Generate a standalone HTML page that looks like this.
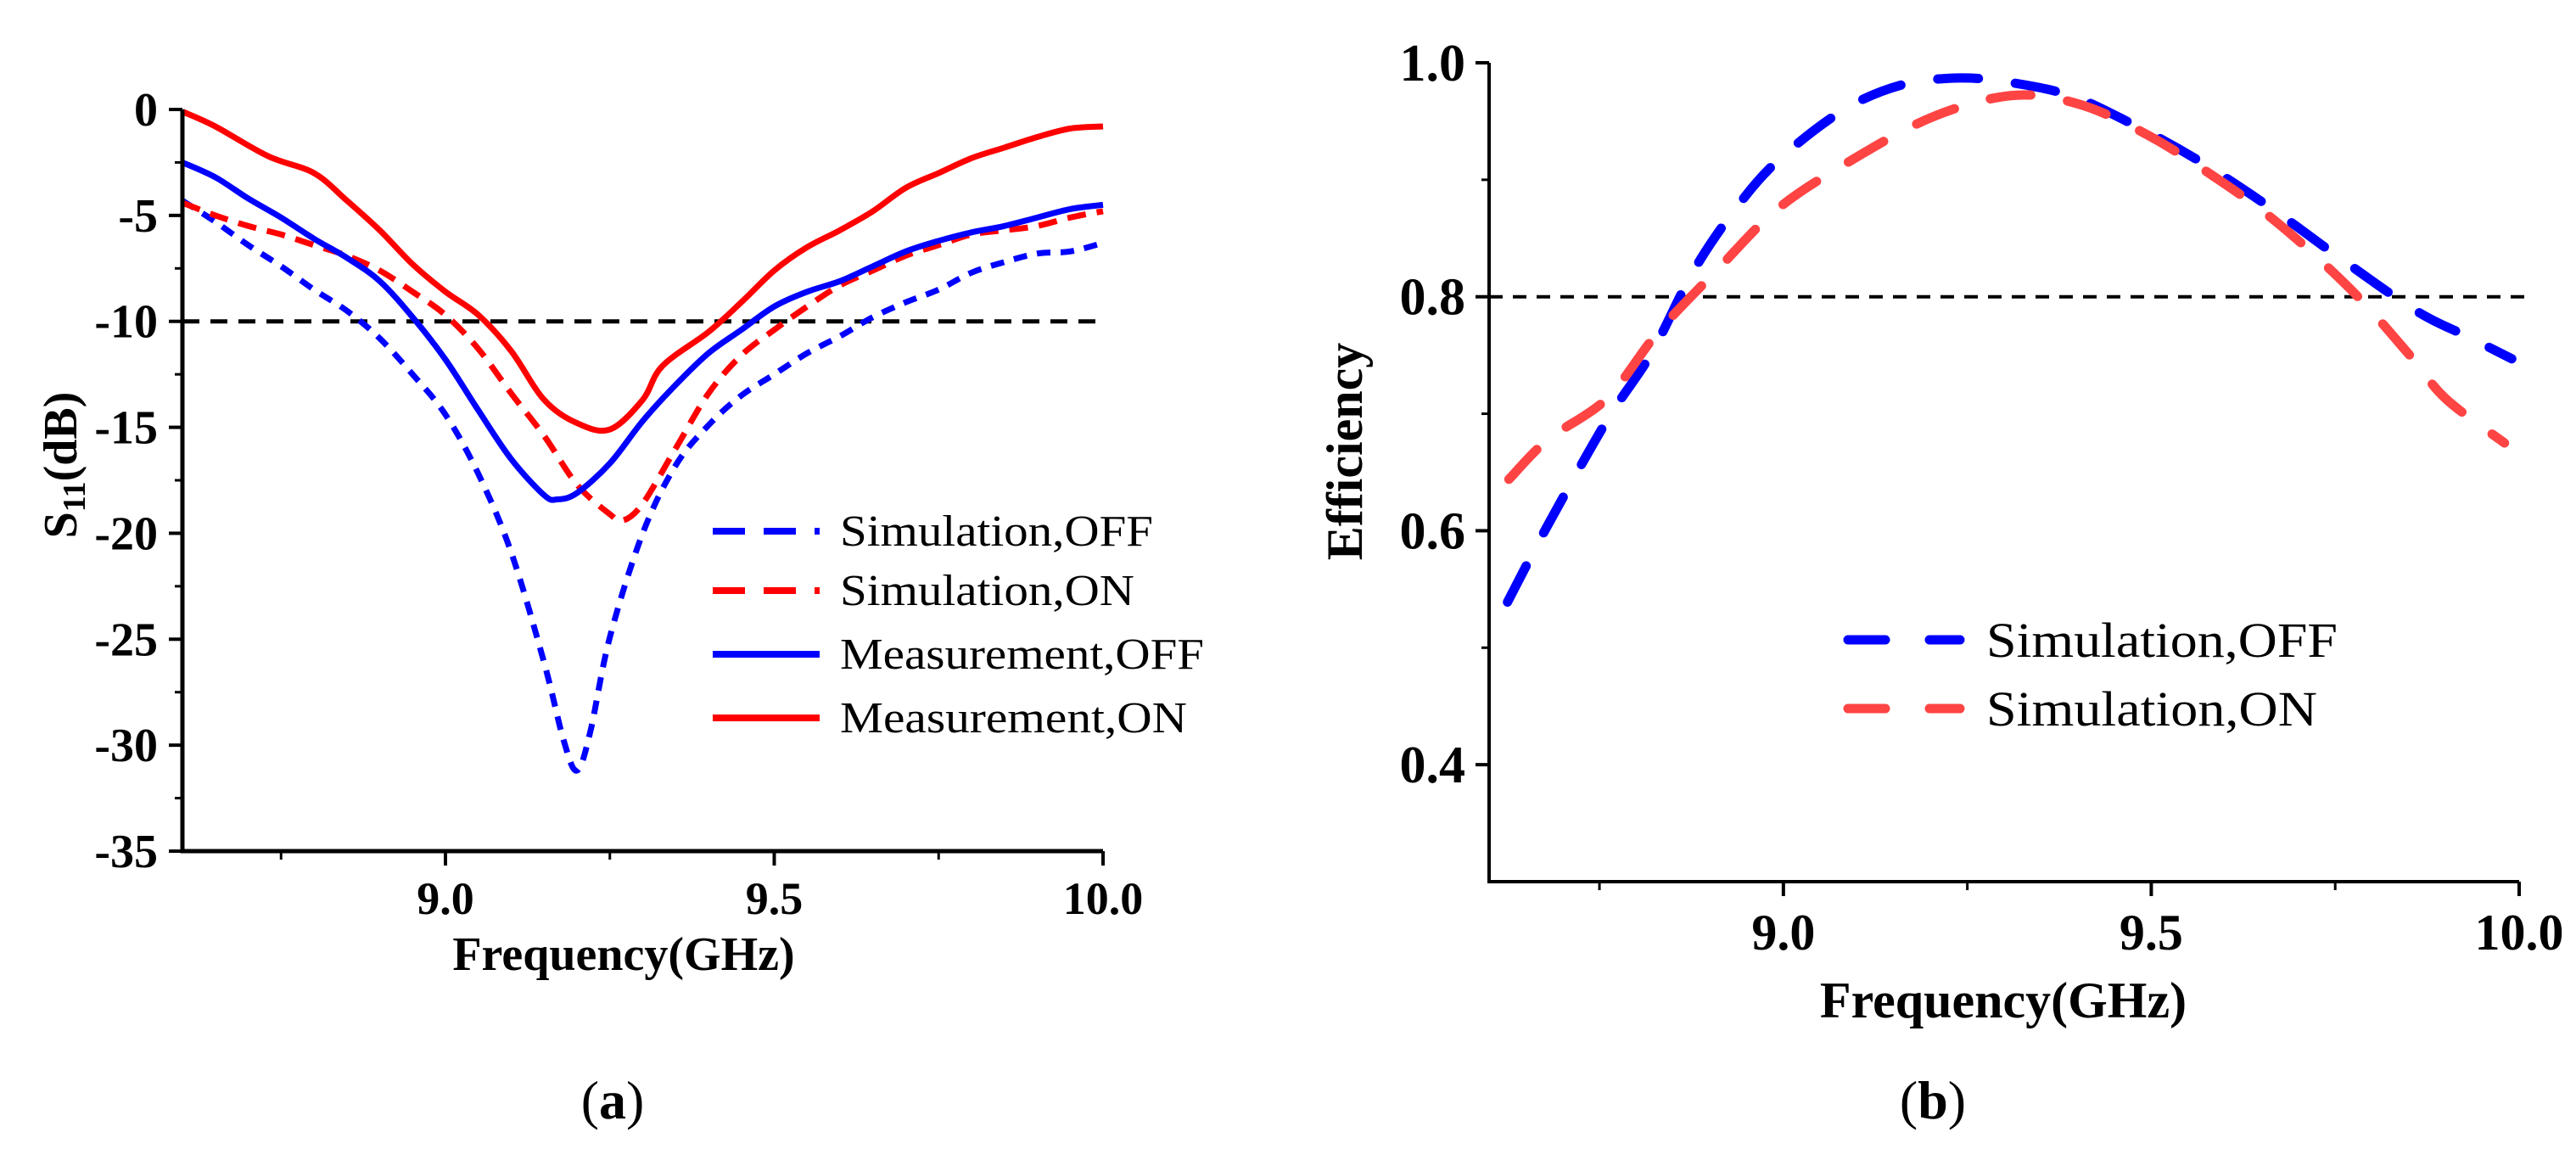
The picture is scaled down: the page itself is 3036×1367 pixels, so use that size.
<!DOCTYPE html>
<html><head><meta charset="utf-8"><style>
html,body{margin:0;padding:0;background:#fff;}
svg{display:block;font-family:"Liberation Serif",serif;}
</style></head><body>
<svg id="fig" width="3036" height="1367" viewBox="0 0 3036 1367" xmlns="http://www.w3.org/2000/svg">
<rect width="3036" height="1367" fill="#fff"/>
<g id="pa"></g>
<g id="pb"></g>
<text x="722" y="1318" font-size="64" text-anchor="middle">(<tspan font-weight="bold">a</tspan>)</text>
<text x="2278" y="1318" font-size="64" text-anchor="middle">(<tspan font-weight="bold">b</tspan>)</text>
</svg>
<script>
// ---- Panel (a) data ----
const aFreqMeasOn = [8.6,8.65,8.73,8.8,8.85,8.9,8.95,9.0,9.05,9.1,9.15,9.2,9.25,9.3,9.33,9.4,9.45,9.5,9.55,9.6,9.65,9.7,9.75,9.8,9.85,9.9,9.95,10.0];
const aMeasOn = [-0.1,-0.8,-2.2,-3.0,-4.3,-5.7,-7.3,-8.6,-9.7,-11.4,-13.7,-14.8,-15.1,-13.7,-12.1,-10.5,-9.1,-7.6,-6.5,-5.7,-4.8,-3.7,-3.0,-2.3,-1.8,-1.3,-0.9,-0.8];
const aFreqMeasOff = [8.6,8.65,8.7,8.75,8.8,8.85,8.9,8.95,9.0,9.05,9.1,9.15,9.17,9.2,9.25,9.3,9.35,9.4,9.45,9.5,9.55,9.6,9.65,9.7,9.75,9.8,9.85,9.9,9.95,10.0];
const aMeasOff = [-2.5,-3.2,-4.2,-5.1,-6.1,-7.0,-8.1,-9.8,-11.8,-14.2,-16.5,-18.2,-18.4,-18.1,-16.7,-14.7,-13.0,-11.5,-10.4,-9.3,-8.6,-8.1,-7.4,-6.7,-6.2,-5.8,-5.5,-5.1,-4.7,-4.5];
const aFreqSimOn = [8.6,8.65,8.7,8.75,8.8,8.85,8.9,8.95,9.0,9.05,9.1,9.15,9.2,9.25,9.27,9.3,9.35,9.4,9.45,9.5,9.55,9.6,9.65,9.7,9.75,9.8,9.85,9.9,9.95,10.0];
const aSimOn = [-4.4,-5.0,-5.5,-5.9,-6.4,-6.9,-7.6,-8.6,-9.7,-11.3,-13.4,-15.4,-17.7,-19.1,-19.4,-18.6,-16.0,-13.4,-11.6,-10.4,-9.3,-8.3,-7.6,-6.9,-6.4,-5.9,-5.7,-5.5,-5.1,-4.8];
const aFreqSimOff = [8.6,8.65,8.7,8.75,8.8,8.85,8.9,8.95,9.0,9.05,9.1,9.15,9.18,9.2,9.22,9.25,9.3,9.35,9.4,9.45,9.5,9.55,9.6,9.65,9.7,9.75,9.8,9.85,9.9,9.95,10.0];
const aSimOff = [-4.3,-5.3,-6.4,-7.4,-8.5,-9.5,-10.8,-12.5,-14.4,-17.2,-20.9,-26.1,-29.8,-31.2,-29.4,-24.9,-20.0,-16.8,-14.9,-13.5,-12.5,-11.5,-10.7,-9.8,-9.1,-8.5,-7.7,-7.2,-6.8,-6.7,-6.3];
const aYTicks = [0,-5,-10,-15,-20,-25,-30,-35];
const aXTicks = [9.0,9.5,10.0];
const aThreshold = -10;
// ---- Panel (b) data ----
const bFreqOff = [8.625,8.68,8.76,8.82,8.876,8.93,8.99,9.08,9.16,9.24,9.31,9.39,9.47,9.56,9.66,9.75,9.86,9.93,9.99];
const bEffOff = [0.539,0.605,0.694,0.751,0.82,0.871,0.915,0.959,0.981,0.987,0.983,0.972,0.949,0.918,0.877,0.836,0.788,0.766,0.747];
const bFreqOn = [8.627,8.68,8.76,8.83,8.91,8.99,9.08,9.2,9.31,9.4,9.49,9.58,9.67,9.77,9.85,9.9,9.98];
const bEffOn = [0.644,0.678,0.713,0.77,0.823,0.874,0.912,0.953,0.972,0.965,0.94,0.905,0.864,0.807,0.751,0.713,0.675];
const bYTicks = [0.4,0.6,0.8,1.0];
const bXTicks = [9.0,9.5,10.0];
const bThreshold = 0.8;

const NS = "http://www.w3.org/2000/svg";
function mk(parent, tag, attrs, txt){
  const e = document.createElementNS(NS, tag);
  for (const k in attrs) e.setAttribute(k, attrs[k]);
  if (txt !== undefined) e.textContent = txt;
  parent.appendChild(e);
  return e;
}
function smoothPath(pts){
  let d = "M" + pts[0][0].toFixed(1) + "," + pts[0][1].toFixed(1);
  for (let i = 0; i < pts.length - 1; i++){
    const p0 = pts[Math.max(0,i-1)], p1 = pts[i], p2 = pts[i+1], p3 = pts[Math.min(pts.length-1,i+2)];
    const c1x = p1[0] + (p2[0]-p0[0])/6, c1y = p1[1] + (p2[1]-p0[1])/6;
    const c2x = p2[0] - (p3[0]-p1[0])/6, c2y = p2[1] - (p3[1]-p1[1])/6;
    d += " C" + c1x.toFixed(1)+","+c1y.toFixed(1)+" "+c2x.toFixed(1)+","+c2y.toFixed(1)+" "+p2[0].toFixed(1)+","+p2[1].toFixed(1);
  }
  return d;
}

// ===== Panel A =====
(function(){
  const g = document.getElementById('pa');
  const X0 = 215, X1 = 1300, Y0 = 129, Y1 = 1003;
  const xs = f => X0 + (f - 8.6) / 1.4 * (X1 - X0);
  const ys = v => Y0 + (0 - v) / 35 * (Y1 - Y0);
  // threshold
  const th = mk(g, 'line', {x1:X0, x2:X1, y1:ys(aThreshold), y2:ys(aThreshold), stroke:'#000', 'stroke-width':5, 'stroke-dasharray':'20 13'});
  
  
  const series = [
    {f:aFreqSimOff, v:aSimOff, c:'#0000ff', w:7, dash:'16 12', name:'series-simulation-off'},
    {f:aFreqSimOn, v:aSimOn, c:'#ff0000', w:7, dash:'22 13', name:'series-simulation-on'},
    {f:aFreqMeasOff, v:aMeasOff, c:'#0000ff', w:7, dash:'', name:'series-measurement-off'},
    {f:aFreqMeasOn, v:aMeasOn, c:'#ff0000', w:7, dash:'', name:'series-measurement-on'}
  ];
  series.forEach(s => {
    const pts = s.f.map((f,i) => [xs(f), ys(s.v[i])]);
    const p = mk(g, 'path', {d:smoothPath(pts), fill:'none', stroke:s.c, 'stroke-width':s.w, 'stroke-linejoin':'round'});
    if (s.dash) p.setAttribute('stroke-dasharray', s.dash);
    
    
  });
  // axes
  const ax = mk(g, 'path', {d:`M${X0},${Y0} V${Y1} H${X1}`, fill:'none', stroke:'#000', 'stroke-width':5});
  
  
  aYTicks.forEach(v => {
    const y = ys(v);
    const t = mk(g, 'line', {x1:X0-16, x2:X0, y1:y, y2:y, stroke:'#000', 'stroke-width':4});
    
    
    const l = mk(g, 'text', {x:186, y:y+19, 'font-size':56, 'font-weight':'bold', 'text-anchor':'end'}, String(v));
    
    
  });
  for (let v = -2.5; v > -35; v -= 5){
    const y = ys(v);
    const t = mk(g, 'line', {x1:X0-9, x2:X0, y1:y, y2:y, stroke:'#000', 'stroke-width':3});
    
    
  }
  aXTicks.forEach(f => {
    const x = xs(f);
    const t = mk(g, 'line', {x1:x, x2:x, y1:Y1, y2:Y1+17, stroke:'#000', 'stroke-width':4});
    
    
    const l = mk(g, 'text', {x:x, y:1077, 'font-size':54, 'font-weight':'bold', 'text-anchor':'middle'}, f.toFixed(1));
    
    
  });
  [8.75,9.25,9.75].forEach(f => {
    const x = xs(f);
    const t = mk(g, 'line', {x1:x, x2:x, y1:Y1, y2:Y1+10, stroke:'#000', 'stroke-width':3});
    
    
  });
  const xt = mk(g, 'text', {x:735, y:1143, 'font-size':56, 'font-weight':'bold', 'text-anchor':'middle'}, 'Frequency(GHz)');
  
  
  const yt = mk(g, 'text', {x:0, y:0, 'font-size':56, 'font-weight':'bold', 'text-anchor':'middle', transform:'translate(90,548) rotate(-90)'});
  
  
  yt.innerHTML = 'S<tspan font-size="38" dy="10">11</tspan><tspan dy="-10">(dB)</tspan>';
  // legend
  const leg = [
    {y:626, c:'#0000ff', dash:'38 22', t:'Simulation,OFF', tl:369, name:'legend-entry-simulation-off'},
    {y:696, c:'#ff0000', dash:'38 22', t:'Simulation,ON', tl:347, name:'legend-entry-simulation-on'},
    {y:771, c:'#0000ff', dash:'', t:'Measurement,OFF', tl:429, name:'legend-entry-measurement-off'},
    {y:846, c:'#ff0000', dash:'', t:'Measurement,ON', tl:409, name:'legend-entry-measurement-on'}
  ];
  leg.forEach(e => {
    const lg = mk(g, 'g', {});
    
    
    const ln = mk(lg, 'line', {x1:840, x2:966, y1:e.y, y2:e.y, stroke:e.c, 'stroke-width':8});
    if (e.dash) ln.setAttribute('stroke-dasharray', e.dash);
    mk(lg, 'text', {x:990, y:e.y+17, 'font-size':52, textLength:e.tl, lengthAdjust:'spacingAndGlyphs'}, e.t);
  });
})();

// ===== Panel B =====
(function(){
  const g = document.getElementById('pb');
  const X0 = 1755, X1 = 2969, Y0 = 74, Y1 = 1039;
  const xs = f => X0 + (f - 8.6) / 1.4 * (X1 - X0);
  const ys = v => Y0 + (1.0 - v) / 0.7 * (Y1 - Y0);
  const th = mk(g, 'line', {x1:X0, x2:2976, y1:ys(bThreshold), y2:ys(bThreshold), stroke:'#000', 'stroke-width':4, 'stroke-dasharray':'16 12'});
  
  
  const series = [
    {f:bFreqOff, v:bEffOff, c:'#0000ff', name:'series-simulation-off'},
    {f:bFreqOn, v:bEffOn, c:'#ff4444', name:'series-simulation-on'}
  ];
  series.forEach(s => {
    const pts = s.f.map((f,i) => [xs(f), ys(s.v[i])]);
    const p = mk(g, 'path', {d:smoothPath(pts), fill:'none', stroke:s.c, 'stroke-width':11, 'stroke-linecap':'round', 'stroke-dasharray':'48 44'});
    
    
  });
  const ax = mk(g, 'path', {d:`M${X0},${Y0} V${Y1} H${X1}`, fill:'none', stroke:'#000', 'stroke-width':4});
  
  
  bYTicks.forEach(v => {
    const y = ys(v);
    const t = mk(g, 'line', {x1:X0-16, x2:X0, y1:y, y2:y, stroke:'#000', 'stroke-width':4});
    
    
    const l = mk(g, 'text', {x:1727, y:y+21, 'font-size':62, 'font-weight':'bold', 'text-anchor':'end'}, v.toFixed(1));
    
    
  });
  [0.9,0.7,0.5].forEach(v => {
    const y = ys(v);
    const t = mk(g, 'line', {x1:X0-9, x2:X0, y1:y, y2:y, stroke:'#000', 'stroke-width':3});
    
    
  });
  bXTicks.forEach(f => {
    const x = xs(f);
    const t = mk(g, 'line', {x1:x, x2:x, y1:Y1, y2:Y1+17, stroke:'#000', 'stroke-width':4});
    
    
    const l = mk(g, 'text', {x:x, y:1119, 'font-size':60, 'font-weight':'bold', 'text-anchor':'middle'}, f.toFixed(1));
    
    
  });
  [8.75,9.25,9.75].forEach(f => {
    const x = xs(f);
    const t = mk(g, 'line', {x1:x, x2:x, y1:Y1, y2:Y1+10, stroke:'#000', 'stroke-width':3});
    
    
  });
  const xt = mk(g, 'text', {x:2361, y:1199, 'font-size':60, 'font-weight':'bold', 'text-anchor':'middle'}, 'Frequency(GHz)');
  
  
  const yt = mk(g, 'text', {x:0, y:0, 'font-size':60, 'font-weight':'bold', 'text-anchor':'middle', transform:'translate(1605,532) rotate(-90)'}, 'Efficiency');
  
  
  const leg = [
    {y:754, c:'#0000ff', t:'Simulation,OFF', tl:414, name:'legend-entry-simulation-off'},
    {y:835, c:'#ff4444', t:'Simulation,ON', tl:390, name:'legend-entry-simulation-on'}
  ];
  leg.forEach(e => {
    const lg = mk(g, 'g', {});
    
    
    mk(lg, 'line', {x1:2178, x2:2310, y1:e.y, y2:e.y, stroke:e.c, 'stroke-width':11, 'stroke-linecap':'round', 'stroke-dasharray':'44 52'});
    mk(lg, 'text', {x:2341, y:e.y+20, 'font-size':58, textLength:e.tl, lengthAdjust:'spacingAndGlyphs'}, e.t);
  });
})();
</script>
</body></html>
